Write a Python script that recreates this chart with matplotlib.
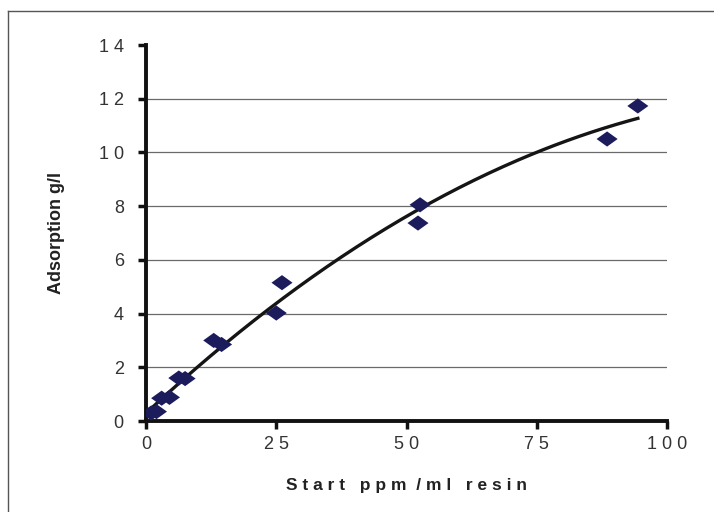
#!/usr/bin/env python3
"""
Adsorption vs start concentration with 2nd order trendline.
"""

import matplotlib
matplotlib.use('Agg')
import matplotlib.pyplot as plt
import numpy as np
from matplotlib.path import Path
from matplotlib.lines import Line2D

plt.rcParams['font.family'] = ['Liberation Sans', 'DejaVu Sans']

# data
start_ppm = [1.0, 2.0, 3.0, 4.5, 6.3, 7.5, 13.0, 14.5, 25.0, 26.1, 52.2, 52.6, 88.5, 94.4]
adsorption = [0.30, 0.35, 0.85, 0.88, 1.60, 1.58, 3.00, 2.85, 4.02, 5.15, 7.37, 8.05, 10.50, 11.73]

x_ticks = [0, 25, 50, 75, 100]
y_ticks = [0, 2, 4, 6, 8, 10, 12, 14]

def spaced(s):
    return ' '.join(s)

# flattened diamond like the excel marker
diamond = Path([(-1, 0), (0, 0.72), (1, 0), (0, -0.72), (-1, 0)],
               [Path.MOVETO, Path.LINETO, Path.LINETO, Path.LINETO, Path.CLOSEPOLY])

fig = plt.figure(figsize=(7.14, 5.12), dpi=100)
ax = fig.add_axes([0.2045, 0.1777, 0.7297, 0.7344])

# grid lines at each major y tick (not the top one)
for yv in y_ticks[1:-1]:
    ax.axhline(yv, color='#6a6a6a', lw=0.9, zorder=1)

# polynomial trendline (order 2)
coef = np.polyfit(start_ppm, adsorption, 2)
xs = np.linspace(min(start_ppm), max(start_ppm), 200)
ax.plot(xs, np.polyval(coef, xs), color='#151515', lw=2.4, zorder=2)

ax.scatter(start_ppm, adsorption, marker=diamond, s=230, color='#1c1c5c',
           edgecolors='none', zorder=3)

ax.set_xlim(0, 100)
ax.set_ylim(0, 14)
ax.set_xticks(x_ticks)
ax.set_yticks(y_ticks)
ax.set_xticklabels([spaced(str(v)) for v in x_ticks])
ax.set_yticklabels([spaced(str(v)) for v in y_ticks])
ax.tick_params(direction='out', length=6, width=2.5, color='#111111',
               labelsize=13, labelcolor='#333333', pad=5)
ax.tick_params(axis='y', pad=10)

for side in ['top', 'right']:
    ax.spines[side].set_visible(False)
for side in ['left', 'bottom']:
    ax.spines[side].set_linewidth(2.8)
    ax.spines[side].set_color('#111111')
ax.spines['left'].set_capstyle('projecting')

ax.set_xlabel('S t a r t   p p m  / m l   r e s i n', fontsize=12.5,
              fontweight='bold', color='#222222', labelpad=18)
ax.set_ylabel('Adsorption g/l', fontsize=13, fontweight='bold',
              color='#222222', labelpad=24)

# frame of the scanned chart
fig.add_artist(Line2D([0.011, 1.0], [0.978, 0.978], color='#555555', lw=1.0,
                      transform=fig.transFigure))
fig.add_artist(Line2D([0.011, 0.011], [0.0, 0.978], color='#555555', lw=1.0,
                      transform=fig.transFigure))

fig.savefig('out.png', dpi=100)
